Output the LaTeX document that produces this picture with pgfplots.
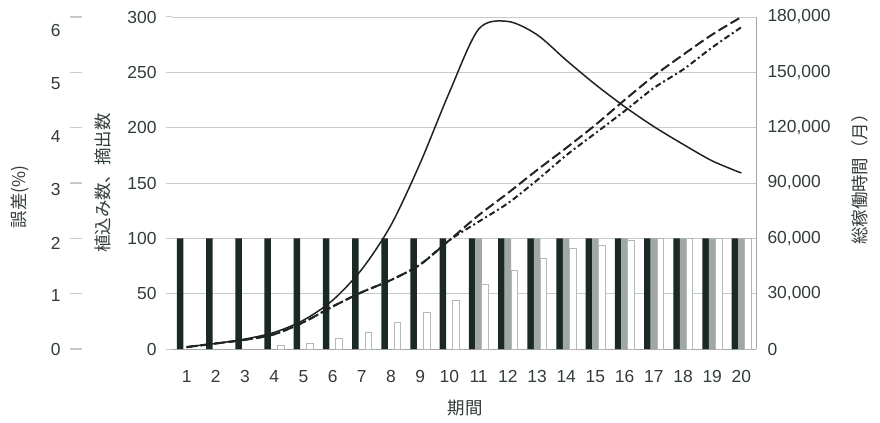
\documentclass[border=0pt]{standalone}
\usepackage{pgfplots}
\pgfplotsset{compat=1.18}
\usepackage{fontspec}
\setmainfont{Liberation Sans}
\newfontfamily\jp{Noto Sans CJK JP}
\definecolor{txt}{RGB}{50,60,55}
\definecolor{darkbar}{RGB}{26,42,34}
\definecolor{graybar}{RGB}{160,168,165}
\definecolor{whiteedge}{RGB}{180,184,182}
\definecolor{gridc}{RGB}{200,202,200}
\definecolor{axc}{RGB}{165,168,166}
\definecolor{linec}{RGB}{30,36,33}
\begin{document}
\begin{tikzpicture}[x=1bp,y=1bp]
\useasboundingbox (0,0) rectangle (880,422);
\pgfplotsset{
  every axis/.append style={
    scale only axis, height=332bp,
    font=\fontsize{17.5}{20}\selectfont,
    /pgf/number format/assume math mode=true,
    tick label style={text=txt},
    label style={text=txt},
  }
}
% error axis (decorative scale)
\begin{axis}[
  at={(82bp,73bp)}, anchor=south west, width=10bp,
  xmin=0, xmax=1, ymin=0, ymax=6,
  axis x line=none, axis y line*=left,
  y axis line style={draw=none},
  ytick={0,1,...,6},
  ytick style={gridc, line width=1.2bp},
  tick align=outside, major tick length=12bp,
  yticklabel style={anchor=east, xshift=-6bp, yshift={-2.3bp*\ticknum}},
  ylabel={\jp 誤差(\%)},
  ylabel style={at={(axis description cs:-6.2,0.458)}, anchor=center},
]
\end{axis}
% main axis: counts
\begin{axis}[
  at={(172bp,73bp)}, anchor=south west, width=584bp,
  xmin=0.5, xmax=20.5, ymin=0, ymax=300,
  xtick={1,...,20}, ytick={0,50,...,300},
  ymajorgrids, grid style={gridc, line width=0.9bp},
  axis x line*=bottom, axis y line*=left,
  x axis line style={axc, line width=0.9bp, -},
  y axis line style={draw=none},
  xtick style={draw=none},
  ytick style={gridc, line width=1bp},
  tick align=outside, major tick length=6bp,
  yticklabel style={anchor=east, xshift=-6bp},
  xticklabel style={anchor=north, yshift=-12bp},
  ylabel={\jp 植込み数、摘出数},
  ylabel style={at={(axis description cs:-0.118,0.5)}, anchor=center},
  xlabel={\jp 期間},
  xlabel style={at={(axis description cs:0.502,-0.178)}, anchor=center},
]
\addplot[ybar, bar width=6.5bp, bar shift=-6.5bp, fill=darkbar, draw=none] coordinates {
(1,100) (2,100) (3,100) (4,100) (5,100) (6,100) (7,100) (8,100) (9,100) (10,100)
(11,100) (12,100) (13,100) (14,100) (15,100) (16,100) (17,100) (18,100) (19,100) (20,100)};
\addplot[ybar, bar width=6.5bp, bar shift=0bp, fill=graybar, draw=none] coordinates {
(11,100) (12,100) (13,100) (14,100) (15,100) (16,100) (17,100) (18,100) (19,100) (20,100)};
\addplot[ybar, bar width=6.5bp, bar shift=6.5bp, fill=white, draw=whiteedge, line width=0.8bp] coordinates {
(4,3) (5,5) (6,10) (7,15) (8,24) (9,33) (10,44) (11,58) (12,71) (13,82)
(14,91) (15,94) (16,98) (17,100) (18,100) (19,100) (20,100)};
\addplot[linec, line width=1.5bp, smooth, mark=none] coordinates {
(1,2) (2,5) (3,9) (4,15) (5,26) (6,44) (7,72) (8,112) (9,168) (10,232)
(11,289) (12,296) (13,284) (14,261) (15,239) (16,219) (17,201) (18,185) (19,170) (20,159)};
\end{axis}
% right axis: total operating time
\begin{axis}[
  at={(172bp,73bp)}, anchor=south west, width=584bp,
  xmin=0.5, xmax=20.5, ymin=0, ymax=180000,
  axis x line=none, axis y line*=right,
  y axis line style={axc, line width=0.9bp},
  ytick={0,30000,...,180000},
  scaled y ticks=false,
  yticklabel style={anchor=west, xshift=8bp, /pgf/number format/.cd, fixed, 1000 sep={,}},
  ytick style={draw=none},
  ylabel={\jp 総稼働時間（月）},
  ylabel style={at={(axis description cs:1.178,0.524)}, anchor=center, rotate=0},
]
\addplot[linec, line width=2bp, smooth, mark=none, dash pattern=on 10bp off 4bp] coordinates {
(1,1000) (2,3000) (3,5000) (4,8000) (5,14500) (6,23000) (7,30800) (8,37400) (9,45800) (10,59000)
(11,72500) (12,84500) (13,97000) (14,109000) (15,121500) (16,135000) (17,148000) (18,159500) (19,170500) (20,180000)};
\addplot[linec, line width=2bp, smooth, mark=none, dash pattern=on 6bp off 3bp on 2bp off 3bp] coordinates {
(1,1000) (2,3000) (3,5000) (4,8000) (5,14500) (6,23000) (7,30800) (8,37400) (9,45800) (10,59000)
(11,69000) (12,79000) (13,91500) (14,105000) (15,117000) (16,129000) (17,141500) (18,151500) (19,163500) (20,174500)};
\end{axis}
\end{tikzpicture}
\end{document}
